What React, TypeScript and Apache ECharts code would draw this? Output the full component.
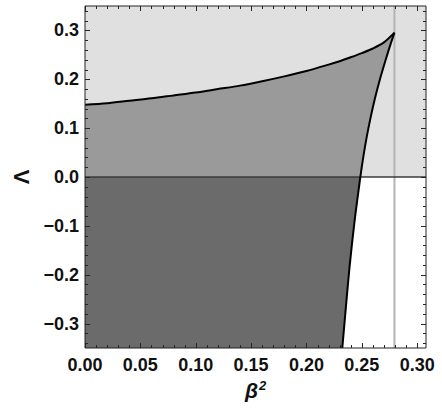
import { useEffect, useRef } from "react";
import * as echarts from "echarts";

// Upper boundary curve  Λ(β²)
const upperX = [0, 0.02, 0.04, 0.06, 0.08, 0.1, 0.12, 0.14, 0.16, 0.18, 0.2, 0.22, 0.23, 0.24, 0.25, 0.26, 0.27, 0.2795];
const upperY = [0.148, 0.151, 0.156, 0.161, 0.167, 0.173, 0.18, 0.187, 0.196, 0.206, 0.217, 0.23, 0.237, 0.245, 0.2535, 0.263, 0.2755, 0.2955];
// Right boundary curve (from the cusp downwards)
const rightX = [0.2795, 0.2757, 0.2716, 0.2664, 0.2618, 0.2578, 0.2543, 0.2513, 0.2487, 0.2435, 0.239, 0.2355, 0.2324];
const rightY = [0.2955, 0.27, 0.24, 0.2, 0.16, 0.12, 0.08, 0.04, 0.0, -0.09, -0.183, -0.27, -0.35];
// Vertical reference line position
const cuspBeta2 = 0.2795;

// Axis ranges and ticks
const xRange = [0, 0.308];
const yRange = [-0.35, 0.35];
const xMajorTicks = [0, 0.05, 0.1, 0.15, 0.2, 0.25, 0.3];
const xMinorTicks = [0.01, 0.02, 0.03, 0.04, 0.06, 0.07, 0.08, 0.09, 0.11, 0.12, 0.13, 0.14, 0.16, 0.17, 0.18, 0.19, 0.21, 0.22, 0.23, 0.24, 0.26, 0.27, 0.28, 0.29];
const yMajorTicks = [-0.3, -0.2, -0.1, 0, 0.1, 0.2, 0.3];
const yMinorTicks = [-0.34, -0.32, -0.28, -0.26, -0.24, -0.22, -0.18, -0.16, -0.14, -0.12, -0.08, -0.06, -0.04, -0.02, 0.02, 0.04, 0.06, 0.08, 0.12, 0.14, 0.16, 0.18, 0.22, 0.24, 0.26, 0.28, 0.32, 0.34];

const FONT = "'Liberation Sans', Arial, sans-serif";

export default function App() {
  const ref = useRef<HTMLDivElement>(null);

  useEffect(() => {
    const chart = echarts.init(ref.current!, null, { renderer: "svg" });
    const [X_MIN, X_MAX] = xRange;
    const [Y_MIN, Y_MAX] = yRange;

    const upper = upperX.map((x, i) => [x, upperY[i]]);
    const right = rightX.map((x, i) => [x, rightY[i]]);
    const rightAbove = right.filter((p) => p[1] >= 0);
    const rightBelow = right.filter((p) => p[1] <= 0);

    const lightPoly = [[X_MIN, 0], [X_MAX, 0], [X_MAX, Y_MAX], [X_MIN, Y_MAX]];
    const mediumPoly = [[X_MIN, 0], ...upper, ...rightAbove.slice(1)];
    const darkPoly = [[X_MIN, 0], ...rightBelow, [X_MIN, Y_MIN]];

    const polygonSeries = (pts: number[][], color: string, z: number) => ({
      type: "custom",
      coordinateSystem: "cartesian2d",
      silent: true,
      z,
      data: [[pts[0][0], pts[0][1]]],
      renderItem: (_params: any, api: any) => ({
        type: "polygon",
        shape: { points: pts.map((p) => api.coord(p)) },
        style: { fill: color, stroke: "none" },
      }),
    });

    const tickStroke = "#262626";
    const tickSeries = (values: number[], axis: "x" | "y", len: number) => ({
      type: "custom",
      coordinateSystem: "cartesian2d",
      silent: true,
      z: 10,
      data: values.map((v) => (axis === "x" ? [v, Y_MIN] : [X_MIN, v])),
      renderItem: (params: any, api: any) => {
        const cs = params.coordSys;
        const style = { stroke: tickStroke, lineWidth: 1 };
        if (axis === "x") {
          const px = Math.round(api.coord([api.value(0), Y_MIN])[0]) + 0.5;
          const yb = cs.y + cs.height;
          return {
            type: "group",
            children: [
              { type: "line", shape: { x1: px, y1: yb, x2: px, y2: yb - len }, style },
              { type: "line", shape: { x1: px, y1: cs.y, x2: px, y2: cs.y + len }, style },
            ],
          };
        }
        const py = Math.round(api.coord([X_MIN, api.value(1)])[1]) + 0.5;
        const xr = cs.x + cs.width;
        return {
          type: "group",
          children: [
            { type: "line", shape: { x1: cs.x, y1: py, x2: cs.x + len, y2: py }, style },
            { type: "line", shape: { x1: xr, y1: py, x2: xr - len, y2: py }, style },
          ],
        };
      },
    });

    const frameSeries = {
      type: "custom",
      coordinateSystem: "cartesian2d",
      silent: true,
      z: 11,
      data: [[X_MIN, Y_MIN]],
      renderItem: (params: any) => {
        const cs = params.coordSys;
        return {
          type: "rect",
          shape: { x: cs.x, y: cs.y, width: cs.width, height: cs.height },
          style: { fill: "none", stroke: "#222", lineWidth: 1 },
        };
      },
    };

    const isMult = (v: number, step: number) => Math.abs(v / step - Math.round(v / step)) < 1e-6;

    const option: any = {
      animation: false,
      backgroundColor: "#fff",
      grid: { left: 85, right: 16, top: 6, bottom: 60 },
      xAxis: {
        type: "value",
        min: X_MIN,
        max: X_MAX,
        interval: 0.05,
        axisLine: { show: false },
        axisTick: { show: false },
        splitLine: { show: false },
        axisLabel: {
          margin: 8,
          color: "#111",
          fontSize: 18,
          fontWeight: "bold",
          fontFamily: FONT,
          showMaxLabel: false,
          formatter: (v: number) => (isMult(v, 0.05) ? v.toFixed(2) : ""),
        },
        name: "{b|β}{s|2}",
        nameLocation: "middle",
        nameGap: 31,
        nameTextStyle: {
          color: "#111",
          rich: {
            b: { fontSize: 21, fontWeight: "bold", fontStyle: "italic", color: "#111", fontFamily: FONT, verticalAlign: "bottom" },
            s: { fontSize: 13, fontWeight: "bold", fontStyle: "italic", color: "#111", fontFamily: FONT, verticalAlign: "bottom", padding: [0, 0, 9, 1] },
          },
        },
      },
      yAxis: {
        type: "value",
        min: Y_MIN,
        max: Y_MAX,
        interval: 0.05,
        axisLine: { show: false },
        axisTick: { show: false },
        splitLine: { show: false },
        axisLabel: {
          margin: 6,
          color: "#111",
          fontSize: 18,
          fontWeight: "bold",
          fontFamily: FONT,
          formatter: (v: number) => {
            if (!isMult(v, 0.1)) return "";
            const s = Math.abs(v).toFixed(1);
            return v < -1e-9 ? "\u2212" + s : s;
          },
        },
        name: "Λ",
        nameLocation: "middle",
        nameGap: 44,
        nameTextStyle: { fontSize: 22, fontWeight: "bold", color: "#111", fontFamily: FONT },
      },
      series: [
        polygonSeries(lightPoly, "#e0e0e0", 1),
        polygonSeries(mediumPoly, "#9a9a9a", 2),
        polygonSeries(darkPoly, "#6b6b6b", 2),
        {
          type: "line",
          silent: true,
          z: 3,
          symbol: "none",
          data: [[cuspBeta2, Y_MIN], [cuspBeta2, Y_MAX]],
          lineStyle: { color: "#b3b3b3", width: 2 },
        },
        {
          type: "line",
          silent: true,
          z: 4,
          symbol: "none",
          data: [[X_MIN, 0], [X_MAX, 0]],
          lineStyle: { color: "#3a3a3a", width: 1.3 },
        },
        {
          type: "line",
          silent: true,
          z: 5,
          symbol: "none",
          smooth: 0.3,
          data: upper,
          lineStyle: { color: "#000", width: 2 },
        },
        {
          type: "line",
          silent: true,
          z: 5,
          symbol: "none",
          smooth: 0.3,
          data: right,
          lineStyle: { color: "#000", width: 2 },
        },
        tickSeries(xMajorTicks, "x", 5),
        tickSeries(xMinorTicks, "x", 3),
        tickSeries(yMajorTicks, "y", 5),
        tickSeries(yMinorTicks, "y", 3),
        frameSeries,
      ],
    };

    chart.setOption(option);
    return () => chart.dispose();
  }, []);

  return (
    <div
      ref={ref}
      style={{ position: "fixed", left: 0, top: 0, width: 442, height: 408, background: "#fff" }}
    />
  );
}
